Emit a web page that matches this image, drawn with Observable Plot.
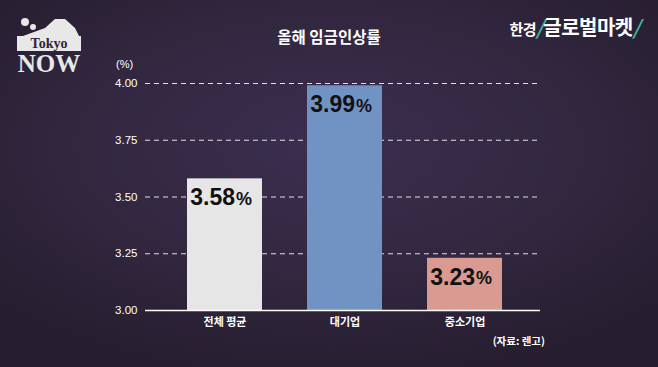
<!DOCTYPE html>
<html><head><meta charset="utf-8">
<script src="https://cdn.jsdelivr.net/npm/d3@7"></script>
<script src="https://cdn.jsdelivr.net/npm/@observablehq/plot@0.6"></script>
<style>
html,body{margin:0;padding:0;}
body{width:658px;height:367px;overflow:hidden;position:relative;
 background: radial-gradient(ellipse 70% 65% at 50% 40%, #3b2e50 0%, #32273f 55%, #261d2f 100%);
 font-family:"Noto Sans CJK KR","Noto Sans",sans-serif;}
#chart{position:absolute;left:0;top:0;}
.abs{position:absolute;color:#fff;white-space:nowrap;}
</style></head>
<body>
<div id="chart"></div>
<div class="abs" id="title" style="left:0;width:658px;top:25px;text-align:center;font-size:15.5px;font-weight:700;">올해 임금인상률</div>
<div class="abs" style="left:116px;top:58px;font-size:11px;font-family:'Liberation Sans',sans-serif;">(%)</div>
<div class="abs" style="right:113px;top:333px;font-size:10.5px;font-weight:700;">(자료: 렌고)</div>
<div class="abs" style="right:18px;top:12px;font-size:20px;font-weight:700;letter-spacing:-0.5px;">
 <span style="font-size:15px;">한경</span><span style="color:#3fb5a0;font-style:italic;">/</span><span>글로벌마켓</span><span style="color:#3fb5a0;font-style:italic;">/</span>
</div>
<div class="abs" style="left:13px;top:10px;width:72px;">
 <svg width="72" height="80" viewBox="0 0 72 80" overflow="visible">
  <polygon points="32,18 42,9 52,9 62,18 66,26 10,26" fill="#e8e8e8"/>
  <rect x="4" y="26" width="64" height="15" fill="#e8e8e8"/>
  <circle cx="12" cy="12" r="4" fill="#e8e8e8"/><circle cx="20" cy="17" r="3" fill="#e8e8e8"/>
  <text x="36" y="38" text-anchor="middle" font-family="Liberation Serif,serif" font-weight="700" font-size="14" fill="#2e2440">Tokyo</text>
  <text x="36" y="62" text-anchor="middle" font-family="Liberation Serif,serif" font-weight="700" font-size="25" fill="#e8e8e8">NOW</text>
 </svg>
</div>
<script>
const categories = ["전체 평균", "대기업", "중소기업"];
const values = [3.58, 3.99, 3.23];
const colors = ["#e6e6e6", "#7193c4", "#d99a92"];
const yTicks = [3.00, 3.25, 3.50, 3.75, 4.00];
const valueLabels = ["3.58", "3.99", "3.23"];

const data = categories.map((c, i) => ({cat: c, v: values[i], color: colors[i], label: valueLabels[i]}));

const plot = Plot.plot({
  width: 658, height: 367,
  marginLeft: 142, marginRight: 111, marginTop: 83, marginBottom: 57,
  style: {background: "transparent", color: "#fff", fontFamily: "'Liberation Sans',sans-serif"},
  x: {domain: categories, padding: 0.375, label: null},
  y: {domain: [3, 4], label: null},
  marks: [
    Plot.ruleY(yTicks.filter(t => t > 3), {stroke: "#fff", strokeOpacity: 0.85, strokeDasharray: "5,4", strokeWidth: 1, insetLeft: 3, insetRight: 7}),
    Plot.barY(data, {x: "cat", y1: 3, y2: "v", fill: "color"}),
    Plot.ruleY([3], {stroke: "#fff", strokeWidth: 1.5, insetLeft: 3, insetRight: 7}),
    Plot.axisY({ticks: yTicks, tickFormat: d => d.toFixed(2), tickSize: 0, tickPadding: 5, fontSize: 11.5, fill: "#fff"}),
    Plot.axisX({tickSize: 0, tickPadding: 8, fontSize: 11, fontWeight: 700, fill: "#fff", fontFamily: "Noto Sans CJK KR"}),
    Plot.text(data, {x: "cat", y: "v", text: "label", textAnchor: "end", dx: 10, dy: 19, fontSize: 23, fontWeight: 700, fill: "#111", fontFamily: "'Liberation Sans',sans-serif"}),
    Plot.text(data, {x: "cat", y: "v", text: () => "%", textAnchor: "start", dx: 11, dy: 20, fontSize: 18, fontWeight: 700, fill: "#111", fontFamily: "'Liberation Sans',sans-serif"})
  ]
});
document.getElementById("chart").appendChild(plot);
</script>
</body></html>
